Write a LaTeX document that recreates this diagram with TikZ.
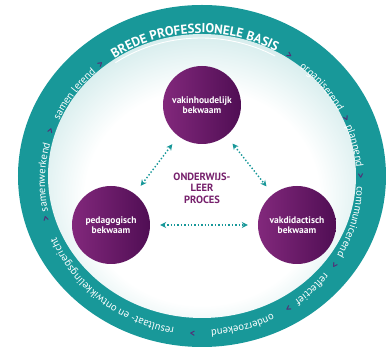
\documentclass[tikz,border=0pt]{standalone}
\usepackage{fontspec}
\setmainfont{PT Sans}
\usetikzlibrary{decorations.text, arrows.meta}

\definecolor{ringteal}{RGB}{24,152,153}
\definecolor{circlelight}{RGB}{130,40,124}
\definecolor{circledark}{RGB}{80,14,84}
\definecolor{procespurple}{RGB}{118,32,108}
\definecolor{chevpurple}{RGB}{84,44,118}

\pgfdeclareradialshading{innerglow}{\pgfpoint{0bp}{-6bp}}{color(0bp)=(white); color(19bp)=(white); color(34bp)=(ringteal!30!white); color(45bp)=(ringteal!85!white); color(50bp)=(ringteal)}

\tikzset{
  ringword/.style={decorate, decoration={text along path, text align=center, text color=white,
      text={|\fontsize{10.6}{12}\selectfont|#1}}},
  chev/.style={text=chevpurple, font=\bfseries\fontsize{10}{10}\selectfont, inner sep=0pt},
  kernbox/.style={circle, minimum size=78pt, inner sep=0pt, left color=circlelight, right color=circledark,
      text=white, align=center, font=\bfseries\fontsize{9.5}{10.5}\selectfont},
  dotarrow/.style={{Stealth[length=6pt,width=6pt]}-{Stealth[length=6pt,width=6pt]}, ringteal,
      line width=1.4pt, dotted, shorten >=10pt, shorten <=10pt}
}

\begin{document}
\begin{tikzpicture}[x=1pt, y=1pt]
    \useasboundingbox (-202,-176) rectangle (187,176);

    % schijf met gloed
    \fill[ringteal] (0,0) ellipse [x radius=184, y radius=171];
    \shade[shading=innerglow] (0,0) ellipse [x radius=154, y radius=142];

    % tekst in de rand
    \begin{scope}[shift={(-1,-6)}]
        \path[decorate, decoration={text along path, text align=center, text color=white,
            text={|\bfseries\fontsize{13}{13}\selectfont|BREDE PROFESSIONELE BASIS}}]
            (132:156 and 149) arc[start angle=132, end angle=53, x radius=156, y radius=149];
        \draw[white, line width=0.9pt] (124:153 and 144) arc[start angle=124, end angle=61, x radius=153, y radius=144];

        \path[ringword={organiserend}] (61.5:156 and 148) arc[start angle=61.5, end angle=17.5, x radius=156, y radius=148];
        \path[ringword={plannend}] (35.75:156 and 148) arc[start angle=35.75, end angle=-8.25, x radius=156, y radius=148];
        \path[ringword={communicerend}] (6.5:156 and 148) arc[start angle=6.5, end angle=-37.5, x radius=156, y radius=148];
        \path[ringword={reflectief}] (-23.25:156 and 148) arc[start angle=-23.25, end angle=-67.25, x radius=156, y radius=148];
        \path[ringword={onderzoekend}] (-52.5:156 and 148) arc[start angle=-52.5, end angle=-96.5, x radius=156, y radius=148];
        \path[ringword={resultaat- en ontwikkelingsgericht}] (-89.25:156 and 148) arc[start angle=-89.25, end angle=-169.25, x radius=156, y radius=148];
        \path[ringword={samenwerkend}] (200.25:156 and 148) arc[start angle=200.25, end angle=156.25, x radius=156, y radius=148];
        \path[ringword={samen lerend}] (166:156 and 148) arc[start angle=166, end angle=122, x radius=156, y radius=148];

        % pijltjes tussen de woorden
        \foreach \ang [count=\i] in {56.4, 24.7, 2.3, -33.2, -56.8, -93, -166, 160.3, 129}
            \node[chev, rotate=\ang-90] (chev\i) at (\ang:159.5 and 151.5) {>};
    \end{scope}

    % de drie bekwaamheden
    \node[kernbox] (vakinhoud) at (0,71) {vakinhoudelijk\\bekwaam};
    \node[kernbox] (pedagogisch) at (-91,-49) {pedagogisch\\bekwaam};
    \node[kernbox] (vakdidactisch) at (95,-49) {vakdidactisch\\bekwaam};

    \node[text=procespurple, align=center, font=\bfseries\fontsize{10.5}{11.5}\selectfont] (proces) at (0,-12)
        {ONDERWIJS-\\LEER\\PROCES};

    % pijlen
    \draw[dotarrow] (vakinhoud) -- (pedagogisch);
    \draw[dotarrow] (vakinhoud) -- (vakdidactisch);
    \draw[dotarrow] (pedagogisch) -- (vakdidactisch);
\end{tikzpicture}
\end{document}
